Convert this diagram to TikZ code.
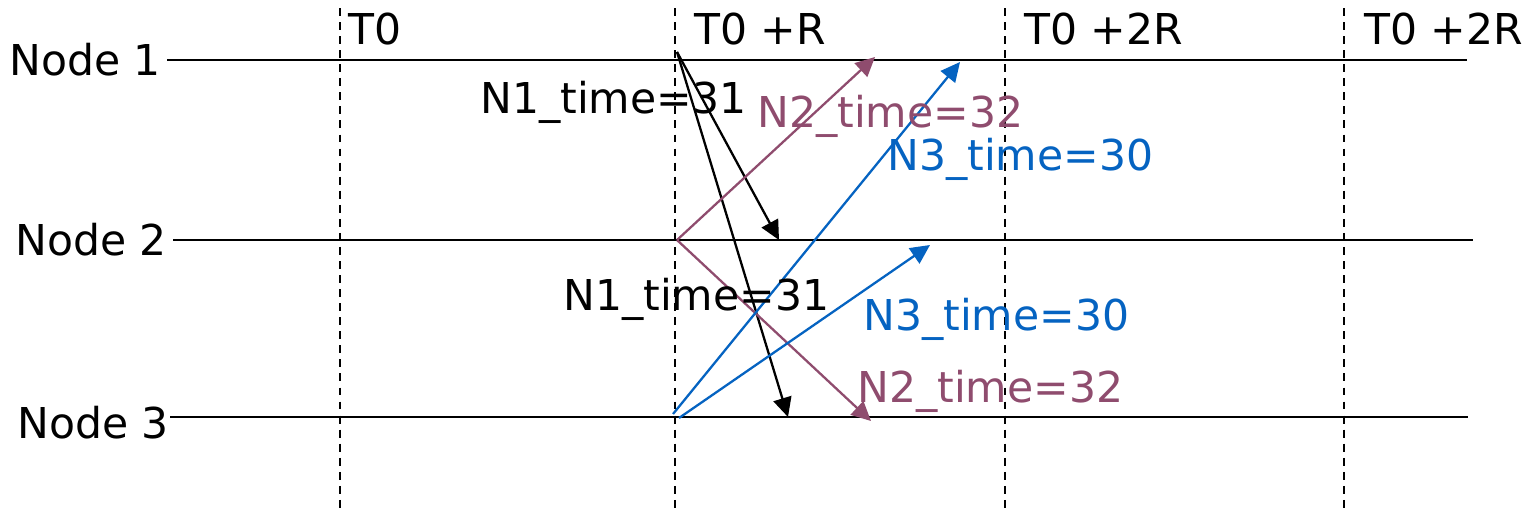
\documentclass[tikz,border=0pt]{standalone}
\usepackage{fontspec}
\setmainfont{DejaVu Sans}
\usetikzlibrary{arrows.meta}
\definecolor{msgmauve}{RGB}{143,76,110}
\definecolor{msgblue}{RGB}{5,99,193}

\begin{document}
\begin{tikzpicture}[
    x=0.02cm, y=-0.02cm,
    every node/.style={font=\fontsize{24.2}{29}\selectfont, inner sep=0pt},
    timeline/.style={draw, line width=1.1pt},
    slot/.style={draw, line width=0.8pt, dash pattern=on 4.5pt off 3.5pt},
    msg/.style={draw, line width=1.3pt, -{Triangle[length=11pt,width=10.5pt]}},
    lbl/.style={anchor=base west}
]
\useasboundingbox (0,0) rectangle (1533,514);

% rounds
\foreach \x/\name/\txt/\tx in {340/t0/T0/348, 675/t1/T0 +R/694, 1005/t2/T0 +2R/1024, 1344/t3/T0 +2R/1364} {
    \draw[slot] (\x,8) -- (\x,514);
    \node[lbl] (\name) at (\tx,44) {\txt};
}

% nodes and their time lines
\node[lbl] (node1) at (9,75) {Node 1};
\node[lbl] (node2) at (15,255) {Node 2};
\node[lbl] (node3) at (17,438) {Node 3};
\coordinate (n1a) at (167,60);  \coordinate (n1b) at (1467,60);
\coordinate (n2a) at (173,240); \coordinate (n2b) at (1473,240);
\coordinate (n3a) at (170,417); \coordinate (n3b) at (1468,417);
\draw[timeline] (n1a) -- (n1b);
\draw[timeline] (n2a) -- (n2b);
\draw[timeline] (n3a) -- (n3b);

% send and receive points
\coordinate (s1) at (677,52);
\coordinate (s2) at (677,240);
\coordinate (s3a) at (673,414);
\coordinate (s3b) at (679,418);
\coordinate (r12) at (779,240);
\coordinate (r13) at (788,417);
\coordinate (r21) at (875,57);
\coordinate (r23) at (871,421);
\coordinate (r31) at (960,62);
\coordinate (r32) at (930,245);

% messages
\draw[msg] (s1) -- (r12);
\draw[msg] (s1) -- (r13);
\draw[msg, msgmauve] (s2) -- (r21);
\draw[msg, msgmauve] (s2) -- (r23);
\draw[msg, msgblue] (s3a) -- (r31);
\draw[msg, msgblue] (s3b) -- (r32);

% time stamps
\node[lbl] (n1top) at (480,113) {N1\_time=31};
\node[lbl, text=msgmauve] (n2top) at (757,127) {N2\_time=32};
\node[lbl, text=msgblue] (n3top) at (887,170) {N3\_time=30};
\node[lbl] (n1bot) at (563,310) {N1\_time=31};
\node[lbl, text=msgblue] (n3bot) at (863,330) {N3\_time=30};
\node[lbl, text=msgmauve] (n2bot) at (857,402) {N2\_time=32};
\end{tikzpicture}
\end{document}
